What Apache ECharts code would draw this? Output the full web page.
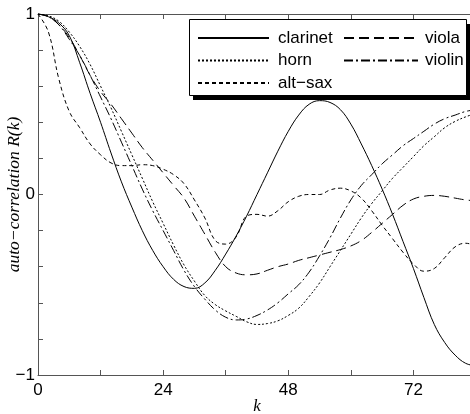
<!DOCTYPE html>
<html>
<head>
<meta charset="utf-8">
<script src="https://cdn.jsdelivr.net/npm/echarts@6/dist/echarts.min.js"></script>
<style>
html,body{margin:0;padding:0;background:#fff;}
#c{width:470px;height:414px;}
</style>
</head>
<body>
<div id="c"></div>
<script>
const K = [0,2,4,6,8,10,12,14,16,18,20,22,24,26,28,30,32,34,36,38,40,42,44,46,48,50,52,54,56,58,60,62,64,66,68,70,72,74,76,78,80,82,84];
const clarinet = [1,0.985,0.95,0.88,0.73,0.56,0.40,0.23,0.07,-0.07,-0.2,-0.31,-0.40,-0.47,-0.51,-0.52,-0.49,-0.42,-0.33,-0.23,-0.12,0.0,0.12,0.24,0.35,0.44,0.50,0.52,0.51,0.47,0.39,0.28,0.16,0.03,-0.11,-0.26,-0.41,-0.57,-0.72,-0.82,-0.89,-0.935,-0.95];
const horn = [1,0.99,0.96,0.9,0.82,0.72,0.6,0.48,0.35,0.22,0.09,-0.04,-0.16,-0.28,-0.39,-0.48,-0.56,-0.61,-0.645,-0.675,-0.705,-0.72,-0.715,-0.7,-0.67,-0.63,-0.565,-0.49,-0.4,-0.31,-0.22,-0.13,-0.05,0.02,0.09,0.15,0.21,0.27,0.32,0.37,0.405,0.43,0.45];
const altSax = [1,0.9,0.64,0.46,0.37,0.28,0.22,0.175,0.16,0.16,0.165,0.16,0.14,0.11,0.06,-0.03,-0.13,-0.255,-0.275,-0.235,-0.12,-0.11,-0.12,-0.09,-0.04,-0.01,0.0,0.0,0.025,0.035,0.02,-0.02,-0.09,-0.17,-0.245,-0.32,-0.385,-0.425,-0.41,-0.35,-0.29,-0.27,-0.285];
const viola = [1,0.985,0.94,0.87,0.77,0.66,0.57,0.5,0.42,0.34,0.26,0.19,0.12,0.05,-0.02,-0.12,-0.22,-0.32,-0.40,-0.435,-0.445,-0.44,-0.42,-0.40,-0.385,-0.365,-0.35,-0.335,-0.32,-0.305,-0.285,-0.255,-0.21,-0.16,-0.11,-0.06,-0.025,-0.01,-0.005,-0.01,-0.02,-0.03,-0.035];
const violin = [1,0.985,0.94,0.86,0.77,0.66,0.54,0.42,0.29,0.16,0.03,-0.09,-0.2,-0.31,-0.42,-0.51,-0.58,-0.64,-0.68,-0.695,-0.69,-0.67,-0.64,-0.6,-0.55,-0.5,-0.43,-0.34,-0.24,-0.13,-0.03,0.05,0.11,0.17,0.22,0.27,0.31,0.35,0.39,0.42,0.44,0.46,0.47];
const xTickLabels = [0,24,48,72];
const yTickLabels = [-1,0,1];
const seriesNames = ['clarinet','horn','alt\u2212sax','viola','violin'];

const FONT = "'Liberation Sans', Arial, sans-serif";
const SERIF = "'Liberation Serif', 'Times New Roman', serif";
const dashes = {
  'clarinet': 'solid',
  'horn': [2,2],
  'alt\u2212sax': [4,3],
  'viola': [10,5],
  'violin': [9,3,2,3]
};
const values = [clarinet, horn, altSax, viola, violin];

function mk(name, vals){
  return {
    name: name, type: 'line', symbol: 'none', smooth: 0.4,
    data: K.map((k,i)=>[k, vals[i]]),
    lineStyle: {color:'#000', width:1, type: dashes[name]},
    itemStyle: {color:'#000'},
    z: 2
  };
}

const chart = echarts.init(document.getElementById('c'), null, {renderer:'canvas'});
const axisCol = '#555';
const legendCommon = {
  orient: 'vertical', top: 29.5, padding: 0,
  itemHeight: 14, itemGap: 5.5,
  itemStyle: {opacity: 0},
  z: 10
};
chart.setOption({
  animation: false,
  backgroundColor: '#fff',
  grid: {left: 38, top: 14, width: 438, height: 361, outerBoundsMode: 'none', containLabel: false},
  xAxis: [{
    type: 'value', min: 0, max: 84, interval: 12, position: 'bottom',
    axisLine: {onZero: false, lineStyle: {color: axisCol, width: 1}},
    axisTick: {inside: true, length: 5, lineStyle: {color: axisCol}},
    splitLine: {show: false},
    axisLabel: {margin: 7, color: '#000', fontFamily: FONT, fontSize: 17,
      formatter: v => xTickLabels.indexOf(Math.round(v)) >= 0 ? String(Math.round(v)) : ''},
    name: 'k', nameLocation: 'middle', nameGap: 23, nameMoveOverlap: false,
    nameTextStyle: {fontFamily: SERIF, fontStyle: 'italic', fontSize: 17, color: '#000'}
  },{
    type: 'value', min: 0, max: 84, interval: 12, position: 'top',
    axisLine: {onZero: false, lineStyle: {color: axisCol, width: 1}},
    axisTick: {inside: true, length: 5, lineStyle: {color: axisCol}},
    splitLine: {show: false}, axisLabel: {show: false}
  }],
  yAxis: {
    type: 'value', min: -1, max: 1, interval: 0.2,
    axisLine: {show: true, onZero: false, lineStyle: {color: axisCol, width: 1}},
    axisTick: {show: true, inside: true, length: 5, lineStyle: {color: axisCol}},
    splitLine: {show: false},
    axisLabel: {margin: 3, color: '#000', fontFamily: FONT, fontSize: 17,
      formatter: v => {
        const r = Math.round(v*1000)/1000;
        if (yTickLabels.indexOf(r) < 0) return '';
        return r < 0 ? '\u2212' + Math.abs(r) : String(r);
      }},
    name: 'auto\u2212correlation R(k)', nameLocation: 'middle', nameGap: 15, nameMoveOverlap: false,
    nameTextStyle: {fontFamily: SERIF, fontStyle: 'italic', fontSize: 17.5, color: '#000'}
  },
  legend: [Object.assign({}, legendCommon, {
    data: [seriesNames[0], seriesNames[1], seriesNames[2]],
    left: 197, itemWidth: 71,
    textStyle: {fontFamily: FONT, fontSize: 17, color: '#000', lineHeight: 17, padding: [0,0,0,4]}
  }), Object.assign({}, legendCommon, {
    data: [seriesNames[3], seriesNames[4]],
    left: 343, itemWidth: 74,
    textStyle: {fontFamily: FONT, fontSize: 17, color: '#000', lineHeight: 17, padding: [0,0,0,2]}
  })],
  graphic: [
    {type: 'rect', z: 5, shape: {x: 193, y: 24, width: 278, height: 76}, style: {fill: '#000'}},
    {type: 'rect', z: 6, shape: {x: 189.5, y: 19.5, width: 277, height: 76}, style: {fill: '#fff', stroke: '#000', lineWidth: 1}}
  ],
  series: seriesNames.map((n,i)=>mk(n, values[i]))
});
</script>
</body>
</html>
